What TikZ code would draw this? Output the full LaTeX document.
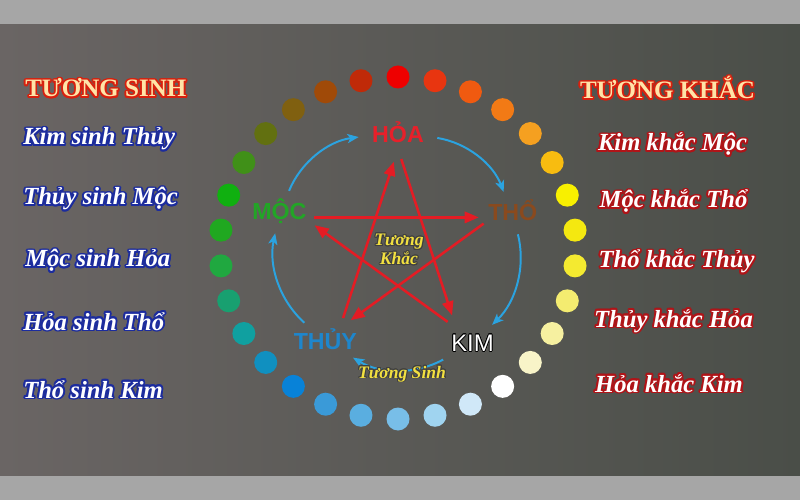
\documentclass[tikz,border=0pt]{standalone}
\usepackage{fontspec}
\setmainfont{Liberation Serif}
\newfontfamily\elemfont{Liberation Sans}
\usepackage{contour}
\usetikzlibrary{positioning,arrows.meta}

\definecolor{bandgray}{HTML}{A6A6A6}
\definecolor{bgleft}{HTML}{6A6564}
\definecolor{bgright}{HTML}{4A4E48}
\definecolor{khacred}{HTML}{E41C24}
\definecolor{sinhblue}{HTML}{2BA3E0}
\definecolor{hoacol}{HTML}{E8202A}
\definecolor{thocol}{HTML}{8A4A1E}
\definecolor{thuycol}{HTML}{1E86CC}
\definecolor{moccol}{HTML}{22A526}
\definecolor{titlefill}{HTML}{FFE4A8}
\definecolor{titleedge}{HTML}{D8200E}
\definecolor{sinhedge}{HTML}{1C2C9E}
\definecolor{khacedge}{HTML}{B01418}
\definecolor{labelyellow}{HTML}{F2E040}

\begin{document}
\begin{tikzpicture}[
    x=0.025cm,
    y=0.025cm,
    title/.style={font=\fontsize{17.8}{19}\selectfont\bfseries,text=titlefill,inner sep=0pt},
    sinhitem/.style={font=\fontsize{17.5}{19}\selectfont\bfseries\itshape,text=white,inner sep=0pt,anchor=base west},
    khacitem/.style={font=\fontsize{17.5}{19}\selectfont\bfseries\itshape,text=white,inner sep=0pt,anchor=base},
    elem/.style={font=\elemfont\fontsize{16.5}{18}\selectfont\bfseries,text height=11.5pt,text depth=0pt,inner sep=2pt},
    yellowlabel/.style={font=\fontsize{12.5}{13.5}\selectfont\bfseries\itshape,text=labelyellow,inner sep=0pt,align=center},
    khac/.style={draw=khacred,line width=1.8pt,-{Triangle[length=10pt,width=8pt]},shorten <=7.5pt,shorten >=9.5pt},
    sinh/.style={draw=sinhblue,line width=1.4pt,-{Stealth[length=8pt,width=6.5pt,inset=2pt]},bend left=30,shorten <=7.5pt,shorten >=7.5pt}
    ]
    \useasboundingbox (0,0) rectangle (800,500);
    % background
    \fill[bandgray] (0,0) rectangle (800,500);
    \shade[left color=bgleft,right color=bgright] (0,25) rectangle (800,475);

    % ring of dots, clockwise from the top
    \begin{scope}[shift={(398,252)}]
    \foreach \c [count=\i from 0] in {EE0000,E83510,F05A10,F27A15,F5A020,F8BC10,F8F000,F4E810,F4EA30,F4EC70,
                                      F6F0A0,F8F4C8,FFFFFF,D0E8F8,A0D4F0,78BEE8,5AAEE0,3A9AD8,0882D8,1090C0,
                                      10A0A0,18A070,20A840,20A820,10B010,409018,627010,806010,A04A08,C02A08}{
        \definecolor{beadcol}{HTML}{\c}
        \fill[beadcol] ({90-12*\i}:178 and 171) circle[radius=11.5];
    }

    % elements
    \node[elem,text=hoacol] (hoa) at (90:114) {HỎA};
    \node[elem,text=thocol] (tho) at (17:120) {THỔ};
    \node[elem,text=white,font=\elemfont\fontsize{17}{18}\selectfont] (kim) at (-52:121) {\contourlength{0.5pt}\contour{black}{KIM}};
    \node[elem,text=thuycol] (thuy) at (-128:118) {THỦY};
    \node[elem,text=moccol] (moc) at (163:124) {MỘC};

    % star points
    \coordinate (hoaP) at (90:99);
    \coordinate (thoP) at (18:99);
    \coordinate (kimP) at (-54:99);
    \coordinate (thuyP) at (-126:99);
    \coordinate (mocP) at (162:99);
    \end{scope}

    % tuong khac (star)
    \draw[khac] (mocP) -- (thoP);
    \draw[khac] (hoaP) -- (kimP);
    \draw[khac] (thoP) -- (thuyP);
    \draw[khac] (kimP) -- (mocP);
    \draw[khac] (thuyP) -- (hoaP);

    % tuong sinh (cycle)
    \draw[sinh] (moc) to (hoa);
    \draw[sinh] (hoa) to (tho);
    \draw[sinh] (tho) to (kim);
    \draw[sinh] (kim) to (thuy);
    \draw[sinh] (thuy) to (moc);

    \node[yellowlabel] (khaclabel) at (399,250) {\contourlength{0.7pt}\contour{black!75}{Tương}\\\contourlength{0.7pt}\contour{black!75}{Khắc}};
    \node[yellowlabel,anchor=base] (sinhlabel) at (402,122) {\contourlength{0.7pt}\contour{black!75}{Tương Sinh}};

    % left column
    \node[title,anchor=base west] (sinhtitle) at (25,403) {\contourlength{1.2pt}\contour{titleedge}{TƯƠNG SINH}};
    \node[sinhitem] (s1) at (23,355) {\contourlength{1.3pt}\contour{sinhedge}{Kim sinh Thủy}};
    \node[sinhitem] (s2) at (23,295) {\contourlength{1.3pt}\contour{sinhedge}{Thủy sinh Mộc}};
    \node[sinhitem] (s3) at (25,233) {\contourlength{1.3pt}\contour{sinhedge}{Mộc sinh Hỏa}};
    \node[sinhitem] (s4) at (23,170) {\contourlength{1.3pt}\contour{sinhedge}{Hỏa sinh Thổ}};
    \node[sinhitem] (s5) at (23,102) {\contourlength{1.3pt}\contour{sinhedge}{Thổ sinh Kim}};

    % right column
    \node[title,anchor=base] (khactitle) at (667.5,401) {\contourlength{1.2pt}\contour{titleedge}{TƯƠNG KHẮC}};
    \node[khacitem] (k1) at (672.5,349) {\contourlength{1.3pt}\contour{khacedge}{Kim khắc Mộc}};
    \node[khacitem] (k2) at (673.5,292) {\contourlength{1.3pt}\contour{khacedge}{Mộc khắc Thổ}};
    \node[khacitem] (k3) at (676.5,232) {\contourlength{1.3pt}\contour{khacedge}{Thổ khắc Thủy}};
    \node[khacitem] (k4) at (673.5,173) {\contourlength{1.3pt}\contour{khacedge}{Thủy khắc Hỏa}};
    \node[khacitem] (k5) at (669,108) {\contourlength{1.3pt}\contour{khacedge}{Hỏa khắc Kim}};
\end{tikzpicture}
\end{document}
